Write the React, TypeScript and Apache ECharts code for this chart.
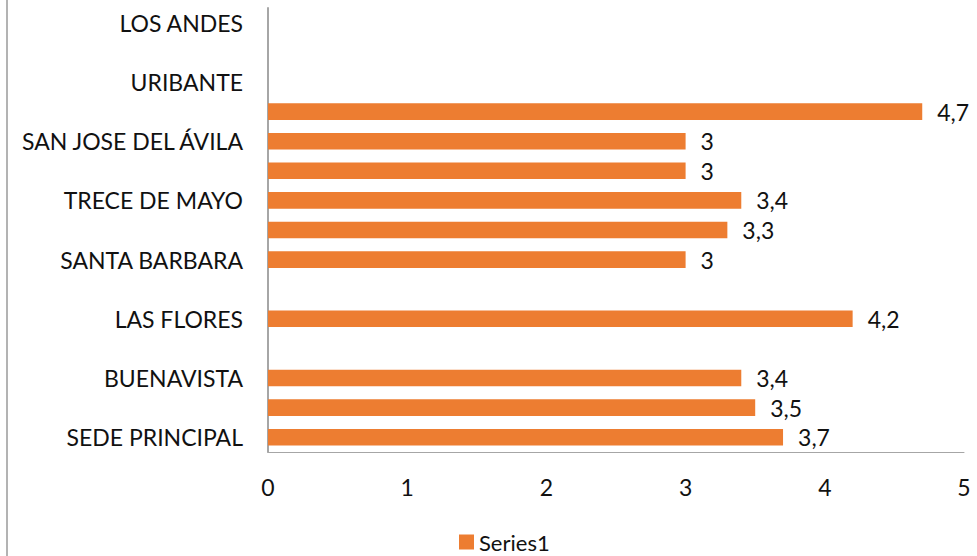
import React, { useEffect, useRef } from "react";
import * as echarts from "echarts";

const categories: string[] = [
  "SEDE PRINCIPAL",
  "",
  "BUENAVISTA",
  "",
  "LAS FLORES",
  "",
  "SANTA BARBARA",
  "",
  "TRECE DE MAYO",
  "",
  "SAN JOSE DEL ÁVILA",
  "",
  "URIBANTE",
  "",
  "LOS ANDES",
];

const series1: (number | null)[] = [3.7, 3.5, 3.4, null, 4.2, null, 3.0, 3.3, 3.4, 3.0, 3.0, 4.7, null, null, null];

const xTicks = { min: 0, max: 5, interval: 1 };

const FONT = "Lato";
const TEXT = "#111111";

export default function App() {
  const ref = useRef<HTMLDivElement>(null);
  useEffect(() => {
    document.body.style.margin = "0";
    if (!ref.current) return;
    const chart = echarts.init(ref.current, null, { renderer: "svg" });
    chart.setOption({
      animation: false,
      backgroundColor: "#ffffff",
      textStyle: { fontFamily: FONT },
      grid: { left: 268, right: 13, top: 8, bottom: 104, containLabel: false },
      xAxis: {
        type: "value",
        min: xTicks.min,
        max: xTicks.max,
        interval: xTicks.interval,
        splitLine: { show: false },
        axisTick: { show: false },
        axisLine: { show: true, lineStyle: { color: "#a6a6a6", width: 1 } },
        axisLabel: {
          margin: 23,
          fontSize: 23,
          color: TEXT,
          fontFamily: FONT,
          formatter: (v: number) => String(v).replace(".", ","),
        },
      },
      yAxis: {
        type: "category",
        data: categories,
        axisTick: { show: false },
        axisLine: { show: true, lineStyle: { color: "#a6a6a6", width: 2 } },
        axisLabel: {
          interval: 0,
          margin: 25,
          fontSize: 23,
          color: TEXT,
          fontFamily: FONT,
        },
      },
      legend: {
        data: ["Series1"],
        left: 459,
        top: 531,
        padding: 0,
        icon: "rect",
        itemWidth: 15,
        itemHeight: 15,
        textStyle: { fontSize: 22, lineHeight: 22, color: TEXT, fontFamily: FONT },
      },
      graphic: [
        {
          type: "line",
          shape: { x1: 7, y1: 0, x2: 7, y2: 556 },
          style: { stroke: "#b3b3b3", lineWidth: 2 },
        },
      ],
      series: [
        {
          name: "Series1",
          type: "bar",
          data: series1,
          barWidth: "56%",
          itemStyle: { color: "#ED7D31" },
          label: {
            show: true,
            position: "right",
            distance: 15,
            fontSize: 23,
            color: TEXT,
            fontFamily: FONT,
            formatter: (p: any) => String(p.value).replace(".", ","),
          },
        },
      ],
    });
    return () => chart.dispose();
  }, []);
  return <div ref={ref} style={{ width: 977, height: 556 }} />;
}
